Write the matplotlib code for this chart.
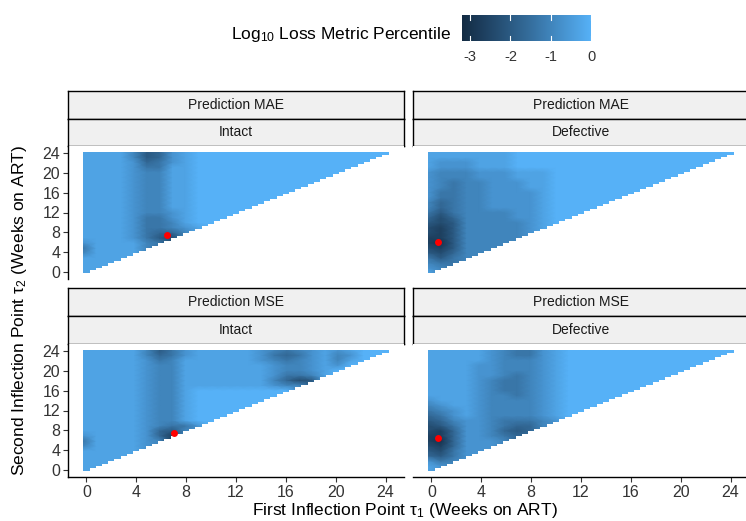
import numpy as np
import matplotlib
matplotlib.use("Agg")
import matplotlib.pyplot as plt
from matplotlib.colors import LinearSegmentedColormap
from matplotlib.patches import Polygon

plt.rcParams['font.family'] = ['Liberation Sans', 'DejaVu Sans']
plt.rcParams['mathtext.fontset'] = 'custom'
plt.rcParams['mathtext.rm'] = 'Liberation Sans'
plt.rcParams['mathtext.it'] = 'Liberation Sans:italic'

# ---------------- data ----------------
# darkness level per 1-week node (tau1 = 0..tau2), rows from tau2 = 24 down to 0.
# value = -level/3  (log10 loss percentile); missing trailing entries = 0
mae_intact = [
    "111136521", "111136521", "111125421", "111124411", "111123311",
    "111123311", "111123311", "111123311", "111123311", "111123311",
    "111123311", "111123311", "111123321", "111124421", "111124431",
    "1111244321", "111124553", "11112467", "2111134", "411113",
    "31111", "1111", "111", "11", "1",
]
mae_defective = [
    "1111111", "1111111", "1222111", "1222111", "2333222111",
    "2333222111", "2343322211", "2343322211", "2443322221", "2443322221",
    "3543322221", "3543322221", "4643333221", "5753333221", "6763333321",
    "7863333321", "786333332", "88633333", "8963333", "786333",
    "67533", "4643", "344", "23", "1",
]
mse_intact = [
    "1111136421111123432121", "1111135421111124542132", "1111124311111123432131",
    "111112331111111233212", "11111233111111123321", "11111233111111124431",
    "1111123311111113576", "111112331111111233", "111112331", "111112331",
    "111112331", "111112331", "111112331", "111112331", "111112331",
    "1111123442", "111112563", "21111258", "4111123", "311112",
    "11111", "1111", "111", "11", "1",
]
mse_defective = [
    "11111234421", "11111234421", "11111233321", "11112233321", "11112233321",
    "11112234321", "11112344321", "11112344321", "11112344321", "11112334321",
    "21112333321", "32112333321", "43212333321", "54212333321", "65322344432",
    "7642234553", "785223565", "88522345", "8952223", "785222",
    "67422", "5642", "243", "12", "1",
]
panel_rows = [mae_intact, mae_defective, mse_intact, mse_defective]
metric_labels = ["Prediction MAE", "Prediction MAE", "Prediction MSE", "Prediction MSE"]
cell_labels = ["Intact", "Defective", "Intact", "Defective"]
best_tau1 = [6.5, 0.5, 7.0, 0.5]
best_tau2 = [7.5, 6.0, 7.5, 6.5]
tick_values = [0, 4, 8, 12, 16, 20, 24]
legend_ticks = [-3, -2, -1, 0]
vmin, vmax = -3.2, 0.0

# ---------------- style ----------------
W, H = 746, 521
fig = plt.figure(figsize=(W / 100, H / 100), dpi=100)
cmap = LinearSegmentedColormap.from_list("gg", ["#132B43", "#336A98", "#56B1F7"])
txt_col = "#333333"
strip_fill = "#F0F0F0"
XL = (-1.475, 25.475)


def px_axes(x0, y0, x1, y1):
    return fig.add_axes([x0 / W, 1 - y1 / H, (x1 - x0) / W, (y1 - y0) / H])


def grid_values(rows):
    Z = np.zeros((25, 25))
    for i, s in enumerate(rows):
        y = 24 - i
        s = s.ljust(y + 1, "0")
        for x in range(y + 1):
            Z[y, x] = -int(s[x]) / 3.0
    for y in range(25):
        for x in range(y + 1, 25):
            Z[y, x] = Z[x, x]
    return Z


# staircase outline of the tile domain (tau2 >= tau1, 0.5-week tiles)
centers = np.arange(0, 24.01, 0.5)
verts = [(-0.25, 24.25), (-0.25, -0.25)]
for c in centers:
    verts.append((c + 0.25, c - 0.25))
    verts.append((c + 0.25, c + 0.25))
verts.append((24.25, 24.25))

col_x = [(68, 404), (413, 749)]
row_y = [(91, 119, 146, 279), (288, 316, 344, 477)]

for k in range(4):
    r, c = divmod(k, 2)
    x0, x1 = col_x[c]
    s0, s1, p0, p1 = row_y[r]
    # strips
    for (a, b, lab) in [(s0, s1, metric_labels[k]), (s1, p0, cell_labels[k])]:
        sa = px_axes(x0, a, x1, b)
        sa.set_facecolor(strip_fill)
        sa.set_xticks([]); sa.set_yticks([])
        for sp in sa.spines.values():
            sp.set_color("black"); sp.set_linewidth(1.0)
        sa.text(0.5, 0.5, lab, ha="center", va="center", fontsize=10,
                color="#1A1A1A", transform=sa.transAxes)
    ax = px_axes(x0, p0, x1, p1)
    Z = grid_values(panel_rows[k])
    xn = np.linspace(-0.25, 24.25, 25)
    mesh = ax.pcolormesh(xn, xn, Z, shading="gouraud", cmap=cmap, vmin=vmin, vmax=vmax)
    poly = Polygon(verts, closed=True, transform=ax.transData, facecolor="none", edgecolor="none")
    ax.add_patch(poly)
    mesh.set_clip_path(poly)
    ax.plot(best_tau1[k], best_tau2[k], "o", color="#FF0000", ms=5, mec="none")
    ax.set_xlim(*XL); ax.set_ylim(*XL)
    for sp in ax.spines.values():
        sp.set_visible(False)
    ax.tick_params(colors="#333333", labelcolor=txt_col, labelsize=11.5, length=3.5, width=0.8,
                   pad=2)
    if c == 0:
        ax.spines["left"].set_visible(True)
        ax.spines["left"].set_linewidth(1.0)
        ax.set_yticks(tick_values)
    else:
        ax.set_yticks([])
    if r == 1:
        ax.spines["bottom"].set_visible(True)
        ax.spines["bottom"].set_linewidth(1.0)
        ax.set_xticks(tick_values)
    else:
        ax.set_xticks([])

# axis titles
fig.text(405 / W, 1 - 510 / H, "First Inflection Point τ$_1$ (Weeks on ART)",
         ha="center", va="center", fontsize=12.5, color="black")
fig.text(20 / W, 1 - 311 / H, "Second Inflection Point τ$_2$ (Weeks on ART)",
         ha="center", va="center", fontsize=12.5, color="black", rotation=90)

# legend
fig.text(451 / W, 1 - 34 / H, "Log$_{10}$ Loss Metric Percentile", ha="right", va="center",
         fontsize=12.5, color="black")
cax = px_axes(462, 15, 591, 41)
grad = np.linspace(vmin, vmax, 256)[None, :]
cax.imshow(grad, extent=[vmin, vmax, 0, 1], aspect="auto", cmap=cmap, vmin=vmin, vmax=vmax)
for v in legend_ticks:
    cax.plot([v, v], [0, 0.2], color="white", lw=0.8)
    cax.plot([v, v], [0.8, 1], color="white", lw=0.8)
cax.set_xlim(vmin, vmax); cax.set_ylim(0, 1)
cax.set_axis_off()
for v in legend_ticks:
    xpx = 462 + (v - vmin) / (vmax - vmin) * (591 - 462)
    fig.text(xpx / W, 1 - 57 / H, str(v), ha="center", va="center", fontsize=10.5, color=txt_col)

fig.savefig("out.png", dpi=100)
